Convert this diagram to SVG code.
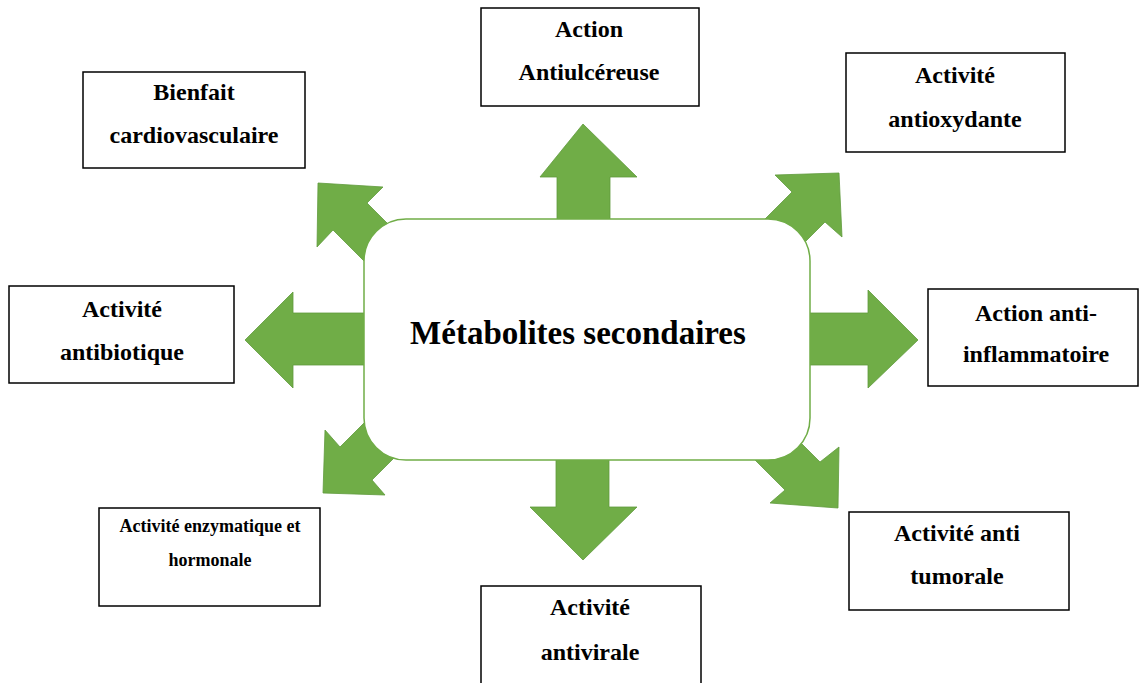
<svg xmlns="http://www.w3.org/2000/svg" width="1140" height="683" viewBox="0 0 1140 683">
<style>
.box{fill:#fff;stroke:#000;stroke-width:1.5}
.arr{fill:#70ad47;stroke:#5f9a3c;stroke-width:0.8}
.t{font-family:"Liberation Serif","Times New Roman",serif;font-weight:bold;font-size:24px;fill:#000;text-anchor:middle}
.s{font-size:18px}
.c{font-size:33px}
</style>
<rect width="1140" height="683" fill="#fff"/>
<g id="connectors">
<polygon class="arr" points="557,260 557,177 540,177 583,124 637,177 610,177 610,260"/>
<polygon class="arr" points="556,420 556,507 530,507 583,560 637,507 609,507 609,420"/>
<polygon class="arr" points="400,313 293,313 293,292 245,340 293,388 293,365 400,365"/>
<polygon class="arr" points="770,313 868,313 868,290 918,340 868,388 868,365 770,365"/>
<polygon class="arr" points="407,243 367,203 383,187 318,183 317,247 333,230 373,270"/>
<polygon class="arr" points="752,232 792,192 775,175 839,173 842,237 825,222 785,262"/>
<polygon class="arr" points="380,407 340,447 325,430 323,493 385,495 372,480 412,440"/>
<polygon class="arr" points="775,417 820,462 839,447 838,508 770,503 785,490 740,445"/>
</g>
<g id="center"><rect x="364" y="219" width="446" height="241" rx="42" ry="42" fill="#fff" stroke="#70ad47" stroke-width="1.5"/><text class="t c" x="578" y="344">Métabolites secondaires</text></g>
<g id="n1"><rect class="box" x="481" y="8" width="218" height="98"/><text class="t" x="589" y="37">Action</text><text class="t" x="589" y="80">Antiulcéreuse</text></g>
<g id="n2"><rect class="box" x="83" y="72" width="222" height="96"/><text class="t" x="194" y="100">Bienfait</text><text class="t" x="194" y="143">cardiovasculaire</text></g>
<g id="n3"><rect class="box" x="846" y="53" width="219" height="99"/><text class="t" x="955" y="83">Activité</text><text class="t" x="955" y="127">antioxydante</text></g>
<g id="n4"><rect class="box" x="9" y="286" width="225" height="97"/><text class="t" x="122" y="317">Activité</text><text class="t" x="122" y="360">antibiotique</text></g>
<g id="n5"><rect class="box" x="928" y="289" width="210" height="97"/><text class="t" x="1036" y="321">Action anti-</text><text class="t" x="1036" y="362">inflammatoire</text></g>
<g id="n6"><rect class="box" x="99" y="508" width="221" height="98"/><text class="t s" x="210" y="532">Activité enzymatique et</text><text class="t s" x="210" y="566">hormonale</text></g>
<g id="n7"><rect class="box" x="849" y="512" width="220" height="98"/><text class="t" x="957" y="541">Activité anti</text><text class="t" x="957" y="584">tumorale</text></g>
<g id="n8"><rect class="box" x="481" y="586" width="220" height="110"/><text class="t" x="590" y="615">Activité</text><text class="t" x="590" y="660">antivirale</text></g>
</svg>
